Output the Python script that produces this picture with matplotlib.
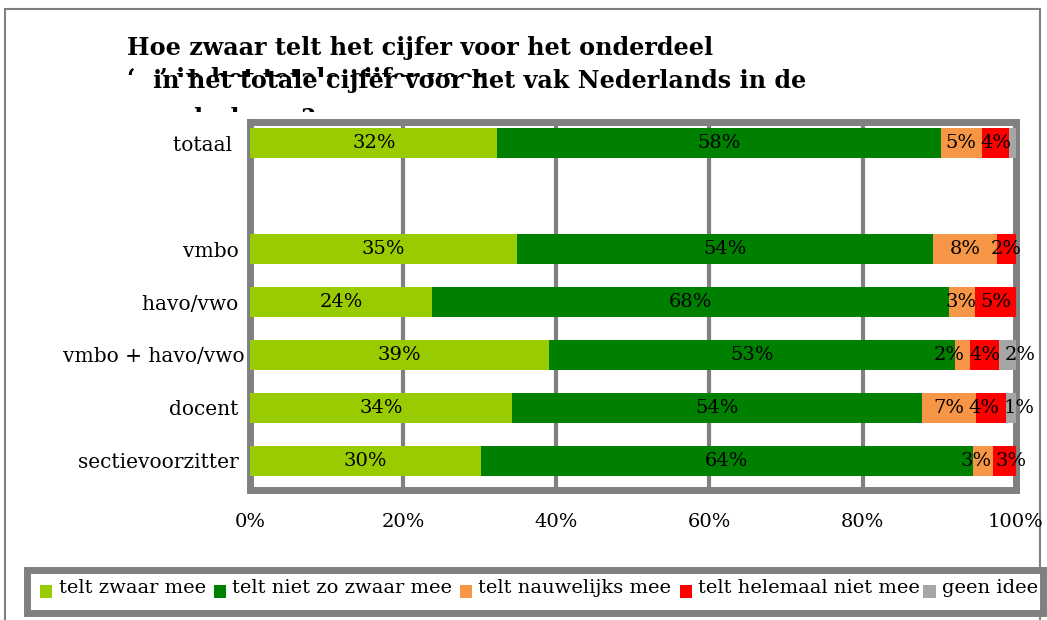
import matplotlib.pyplot as plt
from matplotlib.patches import Rectangle
import numpy as np

plt.rcParams['font.family'] = ['DejaVu Serif']

categories = ["totaal  ", "", "vmbo ", "havo/vwo ", "vmbo + havo/vwo", "docent ", "sectievoorzitter "]
series = ["telt zwaar mee", "telt niet zo zwaar mee", "telt nauwelijks mee",
          "telt helemaal niet mee", "geen idee"]
colors = ["#99CC00", "#008000", "#F79646", "#FF0000", "#A6A6A6"]

zwaar = [32.3, 0, 34.8, 23.7, 39.0, 34.2, 30.1]
niet_zo = [57.9, 0, 54.4, 67.6, 53.1, 53.6, 64.3]
nauwelijks = [5.4, 0, 8.4, 3.4, 1.9, 7.0, 2.7]
helemaal_niet = [3.6, 0, 2.4, 5.3, 3.8, 4.0, 2.9]
geen_idee = [0.8, 0, 0.0, 0.0, 2.2, 1.2, 0.0]
values = [zwaar, niet_zo, nauwelijks, helemaal_niet, geen_idee]

fig = plt.figure(figsize=(10.47, 6.2), dpi=100)
fig.patches.append(Rectangle((0.005, -0.01), 0.988, 0.995, transform=fig.transFigure,
                             fill=False, edgecolor="#808080", linewidth=1.5, zorder=0))

# title: overlapping text boxes, partly clipped, as in the original
tfont = dict(fontsize=17.2, fontweight="bold", va="center", ha="left")
fig.text(0.121, 0.922, "Hoe zwaar telt het cijfer voor het onderdeel", **tfont)
fig.text(0.121, 0.872, "‘…’ in het totale cijfer voor", zorder=0.3, **tfont)
fig.patches.append(Rectangle((0.115, 0.845), 0.6, 0.031, transform=fig.transFigure,
                             facecolor="white", edgecolor="none", zorder=0.4))
fig.text(0.146, 0.869, "in het totale cijfer voor het vak Nederlands in de", **tfont)
fig.text(0.146, 0.808, "onderbouw?", zorder=0.5, **tfont)
fig.patches.append(Rectangle((0.03, 0.2), 0.955, 0.619, transform=fig.transFigure,
                             facecolor="white", edgecolor="none", zorder=1))

ax = fig.add_axes([0.239, 0.21, 0.731, 0.593])
ax.set_zorder(2)
ax.set_facecolor("white")

y = np.arange(len(categories))
left = np.zeros(len(categories))
labels = [[] for _ in categories]   # (x, text) per row
for name, vals, col in zip(series, values, colors):
    vals = np.array(vals)
    ax.barh(y, vals, left=left, height=0.57, color=col, label=name, zorder=3)
    for i, (l, v) in enumerate(zip(left, vals)):
        if v >= 1.0:
            labels[i].append([l + v / 2, f"{round(v):.0f}%"])
    left += vals

# spread labels of narrow segments apart so they don't overlap
min_gap = 4.6
for row in labels:
    for _ in range(20):
        for a, b in zip(row[:-1], row[1:]):
            d = b[0] - a[0]
            if d < min_gap:
                a[0] -= (min_gap - d) / 2
                b[0] += (min_gap - d) / 2
for yi, row in zip(y, labels):
    for xl, txt in row:
        ax.text(xl, yi, txt, ha="center", va="center", fontsize=14, zorder=4,
                clip_on=False)

ax.set_xlim(0, 100)
ax.set_ylim(6.55, -0.4)
ax.set_yticks(y)
ax.set_yticklabels(categories, fontsize=14.5)
ax.set_xticks(np.arange(0, 101, 20))
ax.set_xticklabels([f"{t}%" for t in range(0, 101, 20)], fontsize=14)
ax.tick_params(length=0)
ax.tick_params(axis="x", pad=17)
ax.tick_params(axis="y", pad=4)
ax.grid(axis="x", color="#808080", linewidth=3, zorder=1)
for s in ax.spines.values():
    s.set_color("#808080")
    s.set_linewidth(5)

# legend box along the bottom
fig.patches.append(Rectangle((0.026, 0.012), 0.97, 0.068, transform=fig.transFigure,
                             facecolor="white", edgecolor="#808080", linewidth=5, zorder=2))
leg_x = [0.038, 0.204, 0.439, 0.649, 0.882]
for x0, name, col in zip(leg_x, series, colors):
    fig.patches.append(Rectangle((x0, 0.036), 0.012, 0.02, transform=fig.transFigure,
                                 facecolor=col, edgecolor="none", zorder=3))
    fig.text(x0 + 0.018, 0.052, name, fontsize=14, va="center", ha="left", zorder=4)

fig.savefig("out.png", dpi=100)
